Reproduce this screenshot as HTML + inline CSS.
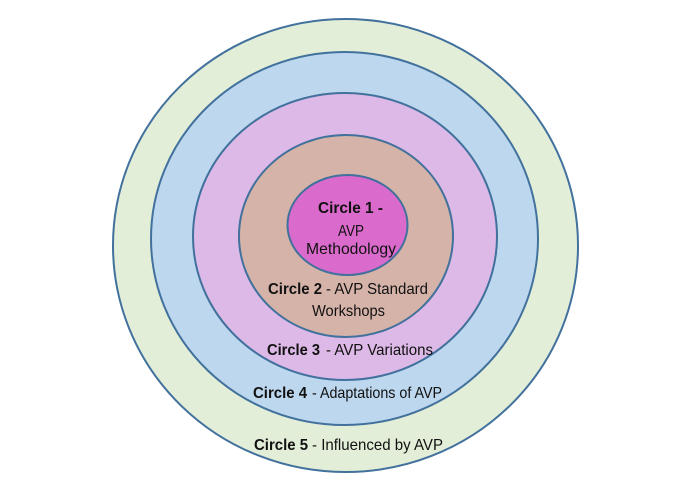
<!DOCTYPE html>
<html>
<head>
<meta charset="utf-8">
<style>
  html, body { margin:0; padding:0; background:#ffffff; }
  body { width:674px; height:481px; overflow:hidden; }
  svg { display:block; }
  text { font-family: "Liberation Sans", sans-serif; font-size:16px; fill:#111111; }
  .b { font-weight:bold; }
</style>
</head>
<body>
<svg width="674" height="481" viewBox="0 0 674 481" xmlns="http://www.w3.org/2000/svg">
  <g stroke="#41719c" stroke-width="2">
    <ellipse cx="345.5" cy="245.5" rx="232.5" ry="226.5" fill="#e3eed8"/>
    <ellipse cx="344.5" cy="238.5" rx="193.5" ry="186.5" fill="#bdd7ee"/>
    <ellipse cx="345" cy="236.5" rx="152" ry="143.5" fill="#dcb9e6"/>
    <ellipse cx="346" cy="236" rx="107" ry="101" fill="#d5b3a9"/>
    <ellipse cx="347.5" cy="225" rx="60" ry="50" fill="#da6bcc"/>
  </g>

  <text class="b" x="318" y="213" textLength="65" lengthAdjust="spacingAndGlyphs">Circle 1 -</text>
  <text x="338" y="236" textLength="26" lengthAdjust="spacingAndGlyphs">AVP</text>
  <text x="306" y="254" textLength="90" lengthAdjust="spacingAndGlyphs">Methodology</text>

  <text class="b" x="268" y="294" textLength="54" lengthAdjust="spacingAndGlyphs">Circle 2</text>
  <text x="326" y="294" textLength="102" lengthAdjust="spacingAndGlyphs">- AVP Standard</text>
  <text x="312" y="316" textLength="73" lengthAdjust="spacingAndGlyphs">Workshops</text>

  <text class="b" x="267" y="355" textLength="53" lengthAdjust="spacingAndGlyphs">Circle 3</text>
  <text x="326" y="355" textLength="107" lengthAdjust="spacingAndGlyphs">- AVP Variations</text>

  <text class="b" x="253" y="398" textLength="54" lengthAdjust="spacingAndGlyphs">Circle 4</text>
  <text x="312" y="398" textLength="130" lengthAdjust="spacingAndGlyphs">- Adaptations of AVP</text>

  <text class="b" x="254" y="450" textLength="54" lengthAdjust="spacingAndGlyphs">Circle 5</text>
  <text x="312" y="450" textLength="131" lengthAdjust="spacingAndGlyphs">- Influenced by AVP</text>
</svg>
</body>
</html>
